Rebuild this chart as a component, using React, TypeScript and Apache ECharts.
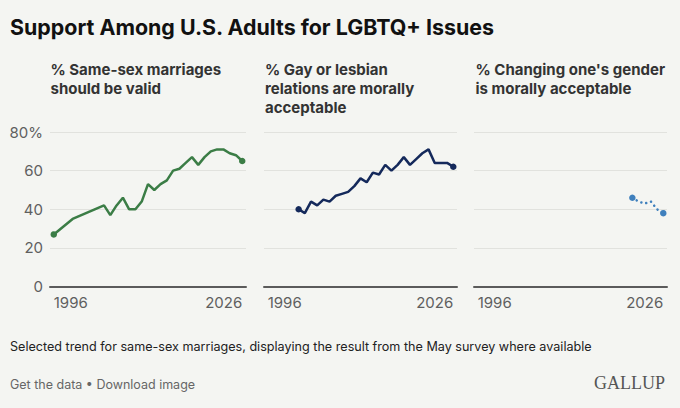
import React, { useEffect, useRef } from "react";
import * as echarts from "echarts";

const marriageYears = [1996, 1999, 2004, 2005, 2006, 2007, 2008, 2009, 2010, 2011, 2012, 2013, 2014, 2015, 2016, 2017, 2018, 2019, 2020, 2021, 2022, 2023, 2024, 2025, 2026];
const marriageValues = [27, 35, 42, 37, 42, 46, 40, 40, 44, 53, 50, 53, 55, 60, 61, 64, 67, 63, 67, 70, 71, 71, 69, 68, 65];

const relationsYears = [2001, 2002, 2003, 2004, 2005, 2006, 2007, 2008, 2009, 2010, 2011, 2012, 2013, 2014, 2015, 2016, 2017, 2018, 2019, 2020, 2021, 2022, 2023, 2024, 2025, 2026];
const relationsValues = [40, 38, 44, 42, 45, 44, 47, 48, 49, 52, 56, 54, 59, 58, 63, 60, 63, 67, 63, 66, 69, 71, 64, 64, 64, 62];

const genderYears = [2021, 2022, 2023, 2024, 2025, 2026];
const genderValues = [46, 44, 43, 44, 40, 38];

const xTickLabels = [1996, 2026];
const yTicks = [0, 20, 40, 60, 80];

const panelTitles = [
  "% Same-sex marriages\nshould be valid",
  "% Gay or lesbian\nrelations are morally\nacceptable",
  "% Changing one's gender\nis morally acceptable",
];

const FONT = "Inter, 'Noto Sans', sans-serif";

function pairs(xs: number[], ys: number[]) {
  return xs.map((x, i) => {
    const endpoint = i === 0 || i === xs.length - 1;
    return endpoint
      ? { value: [x, ys[i]], symbol: "circle", symbolSize: 6.5 }
      : { value: [x, ys[i]], symbol: "none" };
  });
}

export default function App() {
  const ref = useRef<HTMLDivElement>(null);

  useEffect(() => {
    document.body.style.margin = "0";
    if (!ref.current) return;
    const chart = echarts.init(ref.current, null, { renderer: "svg" });

    const gridLefts = [50, 264, 474];
    const gridWidth = [196, 193, 193];

    const grids = gridLefts.map((l, i) => ({
      left: l,
      width: gridWidth[i],
      top: 132,
      height: 154.6,
      containLabel: false,
    }));

    const xAxes = gridLefts.map((_, i) => ({
      type: "value",
      gridIndex: i,
      min: 1995.4,
      max: 2026.6,
      splitLine: { show: false },
      axisTick: { show: false },
      axisLine: { show: true, lineStyle: { color: "#5b5b5b", width: 2 } },
      axisLabel: {
        show: true,
        customValues: xTickLabels,
        alignMinLabel: "left",
        alignMaxLabel: "right",
        color: "#5f5f5f",
        fontSize: 15,
        fontFamily: FONT,
        margin: 8,
        formatter: (v: number) => String(Math.round(v)),
      },
    }));

    const yAxes = gridLefts.map((_, i) => ({
      type: "value",
      gridIndex: i,
      min: 0,
      max: 80,
      interval: 20,
      axisLine: { show: false },
      axisTick: { show: false },
      splitLine: { show: true, lineStyle: { color: "#e1e2de", width: 1 } },
      axisLabel: {
        show: i === 0,
        color: "#5f5f5f",
        fontSize: 15,
        fontFamily: FONT,
        margin: 7,
        customValues: yTicks,
        formatter: (v: number) => (v === 80 ? "80%" : String(v)),
      },
    }));

    const subtitleX = [50.5, 265, 475.5];

    const graphics: any[] = [
      {
        type: "text",
        x: 10,
        y: 27,
        style: {
          text: "Support Among U.S. Adults for LGBTQ+ Issues",
          font: `bold 21.4px ${FONT}`,
          fill: "#111111",
          verticalAlign: "middle",
        },
      },
      ...panelTitles.map((t, i) => ({
        type: "text",
        x: subtitleX[i],
        y: 60,
        style: {
          text: t,
          font: `bold 15px ${FONT}`,
          lineHeight: 19,
          fill: "#333333",
          verticalAlign: "top",
        },
      })),
      {
        type: "text",
        x: 10,
        y: 346,
        style: {
          text: "Selected trend for same-sex marriages, displaying the result from the May survey where available",
          font: `12.6px ${FONT}`,
          fill: "#222222",
          verticalAlign: "middle",
        },
      },
      {
        type: "text",
        x: 10,
        y: 384,
        style: {
          text: "Get the data • Download image",
          font: `12.5px ${FONT}`,
          fill: "#666666",
          verticalAlign: "middle",
        },
      },
      {
        type: "text",
        x: 665,
        y: 383,
        style: {
          text: "GALLUP",
          font: `18px 'Liberation Serif', 'DejaVu Serif', serif`,
          fill: "#555555",
          align: "right",
          verticalAlign: "middle",
        },
      },
    ];

    chart.setOption({
      animation: false,
      backgroundColor: "#f4f5f2",
      grid: grids,
      xAxis: xAxes,
      yAxis: yAxes,
      graphic: graphics,
      series: [
        {
          type: "line",
          xAxisIndex: 0,
          yAxisIndex: 0,
          data: pairs(marriageYears, marriageValues),
          lineStyle: { color: "#3b7d46", width: 2.5 },
          itemStyle: { color: "#3b7d46" },
          showAllSymbol: true,
        },
        {
          type: "line",
          xAxisIndex: 1,
          yAxisIndex: 1,
          data: pairs(relationsYears, relationsValues),
          lineStyle: { color: "#14295b", width: 2.5 },
          itemStyle: { color: "#14295b" },
          showAllSymbol: true,
        },
        {
          type: "line",
          xAxisIndex: 2,
          yAxisIndex: 2,
          data: pairs(genderYears, genderValues),
          lineStyle: { color: "#3f80bd", width: 2.5, type: [0.1, 5], cap: "round" },
          itemStyle: { color: "#3f80bd" },
          showAllSymbol: true,
        },
      ],
    });

    return () => chart.dispose();
  }, []);

  return <div ref={ref} style={{ width: 680, height: 408 }} />;
}
